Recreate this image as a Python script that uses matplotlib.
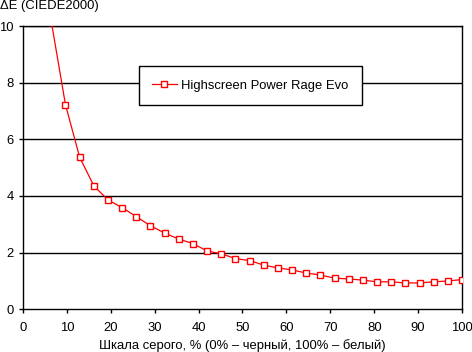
import numpy as np
import matplotlib
matplotlib.use("Agg")
import matplotlib.pyplot as plt

plt.rcParams['font.family'] = ['Liberation Sans', 'DejaVu Sans']

# gray steps: i/31*100 %, i = 2..31
gray = np.arange(2, 32) / 31 * 100
delta_e = [10.15, 7.22, 5.37, 4.36, 3.86, 3.59, 3.27, 2.95, 2.69, 2.48,
           2.32, 2.06, 1.96, 1.79, 1.72, 1.56, 1.46, 1.39, 1.28, 1.21,
           1.10, 1.07, 1.03, 0.97, 0.97, 0.93, 0.93, 0.97, 1.00, 1.05]
label = "Highscreen Power Rage Evo"
xticks = np.arange(0, 101, 10)
yticks = np.arange(0, 11, 2)

fs = 9.4
fig = plt.figure(figsize=(4.72, 3.52), dpi=100)
ax = fig.add_axes([23/472, 1 - 309.3/352, 439/472, 283.3/352])

ax.plot(gray, delta_e, color='red', lw=0.9, marker='s', markersize=5,
        markerfacecolor='white', markeredgecolor='red', markeredgewidth=1.0,
        label=label, zorder=3)

ax.set_xlim(0, 100)
ax.set_ylim(0, 10)
ax.set_xticks(xticks)
ax.set_yticks(yticks)
for y in yticks[1:]:
    ax.axhline(y, color='black', lw=1, zorder=1)

for s in ax.spines.values():
    s.set_color('black')
    s.set_linewidth(1)

ax.tick_params(axis='both', direction='out', length=3, width=1, colors='black',
               labelsize=fs)
ax.tick_params(axis='y', pad=3.5)
ax.tick_params(axis='x', pad=6.5)

ax.set_xlabel("Шкала серого, % (0% – черный, 100% – белый)", fontsize=fs, labelpad=3.5)
fig.text(0.0, 1 - 6/352, "ΔE (CIEDE2000)", fontsize=fs, ha='left', va='center')

leg = ax.legend(loc='center', bbox_to_anchor=(0.518, 0.79), fontsize=fs,
                frameon=True, fancybox=False, shadow=False, framealpha=1,
                edgecolor='black', handlelength=1.85, handletextpad=0.35,
                borderpad=1.05)
leg.get_frame().set_linewidth(1)

fig.savefig("out.png", dpi=100)
